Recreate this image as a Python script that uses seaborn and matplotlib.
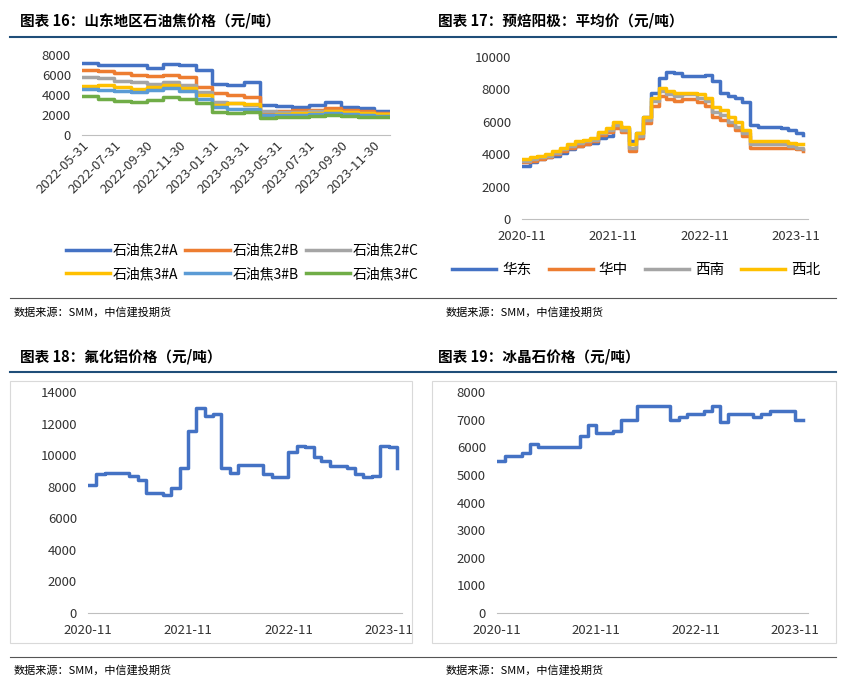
import matplotlib
matplotlib.use("Agg")
import matplotlib.pyplot as plt
import seaborn as sns
import pandas as pd
from matplotlib.patches import Rectangle
from matplotlib.lines import Line2D

plt.rcParams["font.family"] = ["Noto Sans CJK SC", "DejaVu Sans"]

# ---- data ----
p1_names = ["石油焦2#A", "石油焦2#B", "石油焦2#C", "石油焦3#A", "石油焦3#B", "石油焦3#C"]
p1_a2 = [7200,7000,7000,7000,6700,7100,7000,6500,5100,5000,5300,3000,2900,2800,3000,3300,2800,2700,2400,2200]
p1_b2 = [6500,6400,6200,6000,5900,6000,5800,4800,4200,4000,3800,2300,2400,2500,2500,2700,2500,2400,2200,2100]
p1_c2 = [5800,5700,5400,5300,5100,5300,5000,4300,3300,3200,3000,2400,2300,2300,2400,2400,2300,2200,2100,2000]
p1_a3 = [4900,5000,4800,4600,4800,5000,4700,4000,3000,3200,3100,2000,2100,2200,2200,2400,2300,2200,2100,2000]
p1_b3 = [4600,4500,4400,4300,4500,4700,4400,3600,2800,2600,2600,2000,2000,2000,2100,2200,2100,2000,1900,1900]
p1_c3 = [3900,3600,3400,3300,3500,3800,3600,3200,2300,2200,2300,1700,1800,1800,1900,2000,1900,1800,1800,1800]
p1_ticks = ["2022-05-31","2022-07-31","2022-09-30","2022-11-30","2023-01-31","2023-03-31",
            "2023-05-31","2023-07-31","2023-09-30","2023-11-30"]

p2_names = ["华东", "华中", "西南", "西北"]
p2_hd = [3300,3500,3700,3800,3900,4100,4300,4500,4600,4700,5000,5100,5800,5600,4800,5300,6300,7800,8700,9100,9000,8800,8800,8800,8900,8500,7800,7600,7500,7200,5800,5700,5700,5700,5600,5500,5300,5200]
p2_hz = [3500,3600,3700,3800,4000,4200,4400,4500,4600,4800,5200,5400,5600,5400,4200,5000,5900,7000,7600,7400,7300,7400,7400,7200,7000,6300,6100,5800,5500,5100,4400,4400,4400,4400,4400,4400,4300,4200]
p2_xn = [3600,3700,3800,3900,4100,4300,4500,4700,4800,4900,5300,5500,5800,5500,4400,5100,6100,7300,7900,7700,7600,7700,7700,7500,7300,6600,6400,6000,5700,5300,4600,4600,4600,4600,4600,4500,4400,4300]
p2_xb = [3700,3800,3900,4000,4200,4400,4600,4800,4900,5000,5400,5600,6000,5700,4600,5300,6300,7500,8100,7900,7800,7800,7800,7700,7500,6900,6700,6300,6000,5500,4800,4800,4800,4800,4800,4700,4600,4600]

p3_vals = [8100,8800,8900,8900,8900,8700,8400,7600,7600,7500,7900,9200,11500,13000,12500,12600,9200,8900,9400,9400,9400,8800,8600,8600,10200,10600,10500,9900,9600,9300,9300,9200,8800,8600,8700,10600,10500,9200]
p4_vals = [5500,5700,5700,5800,6100,6000,6000,6000,6000,6000,6400,6800,6500,6500,6600,7000,7000,7500,7500,7500,7500,7000,7100,7200,7200,7300,7500,6900,7200,7200,7200,7100,7200,7300,7300,7300,7000,7000]
yr_ticks = ["2020-11", "2021-11", "2022-11", "2023-11"]

titles = ["图表 16：山东地区石油焦价格（元/吨）", "图表 17：预焙阳极：平均价（元/吨）",
          "图表 18：氟化铝价格（元/吨）", "图表 19：冰晶石价格（元/吨）"]
source = "数据来源：SMM，中信建投期货"

W, H = 856, 694
fig = plt.figure(figsize=(W/100, H/100), dpi=100)

def ax_px(x0, y0, x1, y1):
    return fig.add_axes([x0/W, 1-y1/H, (x1-x0)/W, (y1-y0)/H])

def style(ax):
    for s in ["top", "right", "left"]:
        ax.spines[s].set_visible(False)
    ax.spines["bottom"].set_color("#BFBFBF")
    ax.tick_params(length=0, labelsize=9.5, colors="#333333")
    ax.tick_params(axis="x", pad=8)
    ax.tick_params(axis="y", pad=8)
    ax.set_xlabel(""); ax.set_ylabel("")

for i, (tx, ty) in enumerate([(20, 20), (438, 20), (20, 356), (438, 356)]):
    fig.text(tx/W, 1-ty/H, titles[i], fontsize=10.5, fontweight="bold", va="center")
fig.add_artist(Line2D([10/W, 836/W], [1-37/H, 1-37/H], color="#1F4E79", lw=1.5))
fig.add_artist(Line2D([10/W, 836/W], [1-372/H, 1-372/H], color="#1F4E79", lw=1.5))
fig.add_artist(Line2D([10/W, 836/W], [1-298/H, 1-298/H], color="#555555", lw=0.8))
fig.add_artist(Line2D([10/W, 836/W], [1-657/H, 1-657/H], color="#555555", lw=0.8))
for (sx, sy) in [(14, 312), (446, 312), (14, 670), (446, 670)]:
    fig.text(sx/W, 1-sy/H, source, fontsize=8, style="italic", va="center")
fig.add_artist(Rectangle((10/W, 1-643/H), 402/W, 262/H, fill=False, ec="#D9D9D9", lw=0.8))
fig.add_artist(Rectangle((432/W, 1-643/H), 404/W, 262/H, fill=False, ec="#D9D9D9", lw=0.8))

# Panel 1
c6 = ["#4472C4", "#ED7D31", "#A5A5A5", "#FFC000", "#5B9BD5", "#70AD47"]
d1 = pd.date_range("2022-05-31", periods=len(p1_a2), freq="ME")
ax1 = ax_px(82, 55, 390, 135)
for name, vals, c in zip(p1_names, [p1_a2, p1_b2, p1_c2, p1_a3, p1_b3, p1_c3], c6):
    sns.lineplot(x=d1, y=vals, ax=ax1, color=c, lw=2.5, label=name, drawstyle="steps-post")
ax1.set_ylim(0, 8000); ax1.set_yticks(range(0, 8001, 2000))
ax1.set_xlim(pd.Timestamp("2022-05-31"), pd.Timestamp("2023-12-31"))
ax1.set_xticks(pd.to_datetime(p1_ticks))
style(ax1)
ax1.tick_params(axis="x", pad=3)
ax1.set_xticklabels(p1_ticks, rotation=45, ha="right", rotation_mode="anchor")
h, l = ax1.get_legend_handles_labels()
order = [0, 3, 1, 4, 2, 5]
ax1.legend([h[i] for i in order], [l[i] for i in order], loc="upper center",
           bbox_to_anchor=(0.52, -1.2), ncol=3, frameon=False,
           fontsize=10, handlelength=3.2, columnspacing=0.5, handletextpad=0.2, labelspacing=0.7)

# Panel 2
c4 = ["#4472C4", "#ED7D31", "#A5A5A5", "#FFC000"]
d2 = pd.date_range("2020-11-01", periods=len(p2_hd), freq="MS")
ax2 = ax_px(522, 57, 808, 219)
for name, vals, c in zip(p2_names, [p2_hd, p2_hz, p2_xn, p2_xb], c4):
    sns.lineplot(x=d2, y=vals, ax=ax2, color=c, lw=2.5, label=name, drawstyle="steps-post")
ax2.set_ylim(0, 10000); ax2.set_yticks(range(0, 10001, 2000))
ax2.set_xlim(pd.Timestamp("2020-11-01"), pd.Timestamp("2023-12-20"))
ax2.set_xticks(pd.to_datetime(yr_ticks)); ax2.set_xticklabels(yr_ticks)
style(ax2)
ax2.legend(loc="upper center", bbox_to_anchor=(0.40, -0.19), ncol=4, frameon=False,
           fontsize=10.5, handlelength=3, columnspacing=1.2, handletextpad=0.4)

# Panel 3
ax3 = ax_px(88, 392, 402, 613)
sns.lineplot(x=pd.date_range("2020-11-01", periods=len(p3_vals), freq="MS"), y=p3_vals,
             ax=ax3, color="#4472C4", lw=2.5, drawstyle="steps-post")
ax3.set_ylim(0, 14000); ax3.set_yticks(range(0, 14001, 2000))
ax3.set_xlim(pd.Timestamp("2020-11-01"), pd.Timestamp("2023-12-20"))
ax3.set_xticks(pd.to_datetime(yr_ticks)); ax3.set_xticklabels(yr_ticks)
style(ax3)

# Panel 4
ax4 = ax_px(497, 392, 808, 613)
sns.lineplot(x=pd.date_range("2020-11-01", periods=len(p4_vals), freq="MS"), y=p4_vals,
             ax=ax4, color="#4472C4", lw=2.5, drawstyle="steps-post")
ax4.set_ylim(0, 8000); ax4.set_yticks(range(0, 8001, 1000))
ax4.set_xlim(pd.Timestamp("2020-11-01"), pd.Timestamp("2023-12-20"))
ax4.set_xticks(pd.to_datetime(yr_ticks)); ax4.set_xticklabels(yr_ticks)
style(ax4)

fig.savefig("out.png", dpi=100)
